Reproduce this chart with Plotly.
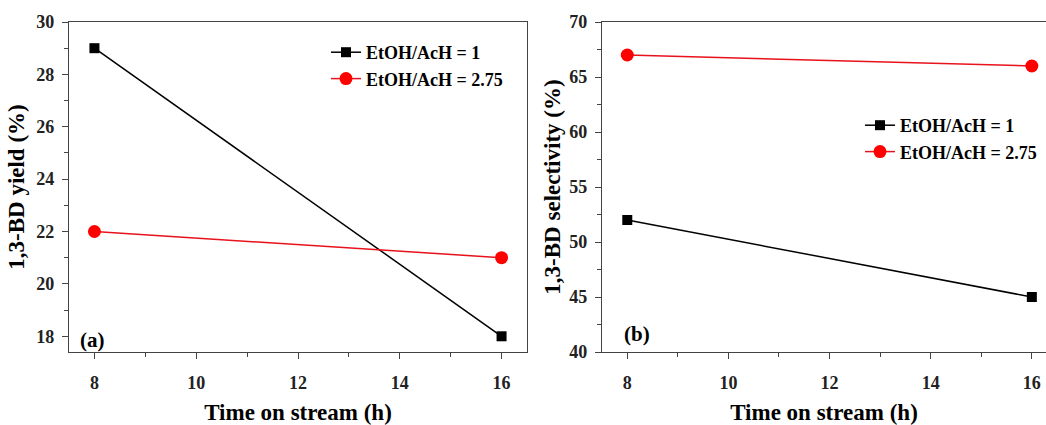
import plotly.graph_objects as go

time_h = [8, 16]
yield_r1 = [29, 18]
yield_r275 = [22, 21]
sel_r1 = [52, 45]
sel_r275 = [67, 66]
names = ["EtOH/AcH = 1", "EtOH/AcH = 2.75"]
x_ticks = [8, 10, 12, 14, 16]
yield_ticks = [18, 20, 22, 24, 26, 28, 30]
sel_ticks = [40, 45, 50, 55, 60, 65, 70]

W, H = 1046, 425
FONT = "Liberation Serif"

fig = go.Figure()
fig.add_trace(go.Scatter(x=time_h, y=yield_r1, name=names[0], mode="lines+markers",
                         line=dict(color="black", width=1.5),
                         marker=dict(symbol="square", size=10, color="black"),
                         xaxis="x", yaxis="y", legend="legend"))
fig.add_trace(go.Scatter(x=time_h, y=yield_r275, name=names[1], mode="lines+markers",
                         line=dict(color="#e8121c", width=1.5),
                         marker=dict(symbol="circle", size=13, color="#ff0000"),
                         xaxis="x", yaxis="y", legend="legend"))
fig.add_trace(go.Scatter(x=time_h, y=sel_r1, name=names[0], mode="lines+markers",
                         line=dict(color="black", width=1.5),
                         marker=dict(symbol="square", size=10, color="black"),
                         xaxis="x2", yaxis="y2", legend="legend2"))
fig.add_trace(go.Scatter(x=time_h, y=sel_r275, name=names[1], mode="lines+markers",
                         line=dict(color="#e8121c", width=1.5),
                         marker=dict(symbol="circle", size=13, color="#ff0000"),
                         xaxis="x2", yaxis="y2", legend="legend2"))

tickfont = dict(family=FONT, size=18, color="#222", weight="bold")
titlefont = dict(family=FONT, size=23, color="black", weight="bold")

def xax(domain, anchor, rng):
    return dict(domain=domain, anchor=anchor, range=rng, showline=True, linecolor="#444",
                linewidth=1.2, mirror=True, ticks="outside", ticklen=6, tickcolor="#444",
                tickvals=x_ticks, ticktext=["<b>%d</b>" % v for v in x_ticks],
                tickfont=tickfont, showgrid=False, zeroline=False, automargin=False,
                ticklabelstandoff=8,
                minor=dict(ticks="outside", ticklen=4, dtick=1, tick0=8, tickcolor="#444", showgrid=False),
                title=dict(text="<b>Time on stream (h)</b>", font=titlefont, standoff=18))

def yax(domain, anchor, rng, vals, mirror, title, minor_dt, standoff):
    return dict(domain=domain, anchor=anchor, range=rng, showline=True, linecolor="#444",
                linewidth=1.2, mirror=mirror, ticks="outside", ticklen=6, tickcolor="#444",
                tickvals=vals, ticktext=["<b>%d</b>" % v for v in vals],
                tickfont=tickfont, showgrid=False, zeroline=False, automargin=False,
                ticklabelstandoff=4,
                minor=dict(ticks="outside", ticklen=4, dtick=minor_dt, tick0=vals[0], tickcolor="#444", showgrid=False),
                title=dict(text="<b>%s</b>" % title, font=titlefont, standoff=standoff))

legfont = dict(family=FONT, size=18, color="black", weight="bold")
ydom = [1 - 352 / H, 1 - 22 / H]
fig.update_layout(
    width=W, height=H, margin=dict(l=0, r=0, t=0, b=0),
    paper_bgcolor="white", plot_bgcolor="white",
    xaxis=xax([69 / W, 527 / W], "y", [7.5, 16.5]),
    yaxis=yax(ydom, "x", [17.4, 30], yield_ticks, True, "1,3-BD yield (%)", 1, 5),
    xaxis2=xax([602 / W, 1.0], "y2", [7.5, 16.28]),
    yaxis2=yax(ydom, "x2", [40, 70], sel_ticks, False, "1,3-BD selectivity (%)", 2.5, 2),
    legend=dict(x=326 / W, y=1 - 34 / H, xanchor="left", yanchor="top", bgcolor="rgba(0,0,0,0)",
                font=legfont, tracegroupgap=0, itemwidth=30),
    legend2=dict(x=860 / W, y=1 - 107 / H, xanchor="left", yanchor="top", bgcolor="rgba(0,0,0,0)",
                 font=legfont, tracegroupgap=0, itemwidth=30),
    annotations=[
        dict(text="<b>(a)</b>", x=78 / W, y=1 - 340 / H, xref="paper", yref="paper", xanchor="left",
             yanchor="middle", showarrow=False, font=dict(family=FONT, size=21, color="black")),
        dict(text="<b>(b)</b>", x=622 / W, y=1 - 334 / H, xref="paper", yref="paper", xanchor="left",
             yanchor="middle", showarrow=False, font=dict(family=FONT, size=21, color="black")),
    ],
)
fig.write_html("out.html")
